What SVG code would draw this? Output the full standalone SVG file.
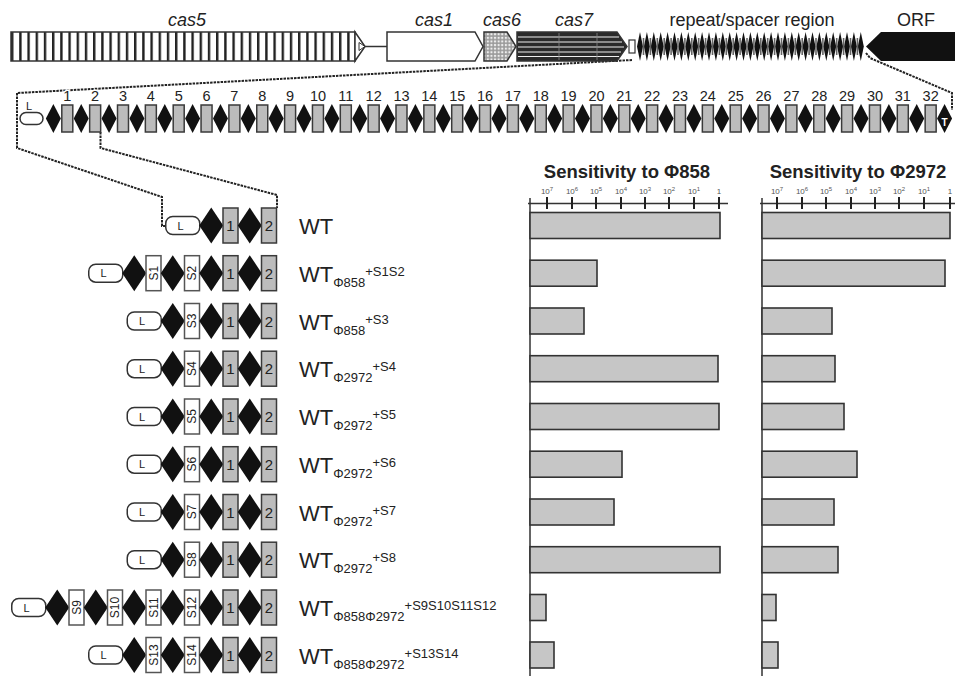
<svg xmlns="http://www.w3.org/2000/svg" xmlns:xlink="http://www.w3.org/1999/xlink" width="955" height="676" viewBox="0 0 955 676">
<style>
.t{font-family:"Liberation Sans",Arial,sans-serif;fill:#222}
.gl{font-size:18px;font-style:italic;text-anchor:middle}
.hl{font-size:18px;text-anchor:middle}
.num{font-size:14.5px;text-anchor:middle;stroke:#fff;stroke-width:3px;paint-order:stroke}
.lead{fill:#fff;stroke:#333;stroke-width:1.5}
.gb{fill:#bcbcbc;stroke:#3a3a3a;stroke-width:1.5}
.wb{fill:#fff;stroke:#555;stroke-width:1.5}
.bar{fill:#c6c6c6;stroke:#333;stroke-width:1.6}
.zl{fill:none;stroke:#222;stroke-width:2;stroke-dasharray:2.5 1}
.ax{stroke:#333;stroke-width:1.5;fill:none}
.tk{stroke:#222;stroke-width:2}
.lt{font-size:11px;text-anchor:middle}
.bn{font-size:15px;text-anchor:middle}
.st{font-size:12px;text-anchor:middle}
.lab{font-size:22px}
.sub{font-size:13px}
.tl{font-size:8px;text-anchor:middle;fill:#555}
.ttl{font-size:18.5px;font-weight:bold;text-anchor:middle}
.gene{stroke:#333;stroke-width:1.5}
</style>
<defs>
<pattern id="stripes" x="11" y="0" width="8.2" height="40" patternUnits="userSpaceOnUse"><rect width="8.2" height="40" fill="#fff"/><rect width="2.4" height="40" fill="#222"/></pattern>
<pattern id="dots" width="3.6" height="3.6" patternUnits="userSpaceOnUse"><rect width="3.6" height="3.6" fill="#999"/><rect x="0.8" y="0.8" width="2.1" height="2.1" fill="#eee"/></pattern>
<path id="d" d="M0,-18 L12,0 L0,18 L-12,0Z" fill="#111"/>
<path id="ds" d="M0,-14.5 L7.5,0 L0,14.5 L-7.5,0Z" fill="#111"/>
<path id="dr" d="M0,-14.5 L3,0 L0,14.5 L-3,0Z" fill="#111"/>
</defs>
<rect width="955" height="676" fill="#fff"/>

<!-- connectors (zoom lines) -->
<g id="connectors">
<polyline class="zl" points="632,60 17,93 17,148 162,197 162,226 165,226"/>
<polyline class="zl" points="100.5,132 100.5,148 277,195 277,208"/>
<polyline class="zl" points="866,53 870,58 952,93 952,110"/>
</g>

<!-- gene locus -->
<g id="cas5">
<text class="t gl" x="187" y="26">cas5</text>
<rect x="11" y="32" width="344" height="29" fill="url(#stripes)" class="gene"/>
<path d="M355,32 L365,46.5 L355,61 Z" fill="#fff" class="gene"/>
<path d="M359,42.5 L365,46.5 L359,50.5 Z" fill="#fff" stroke="#333" stroke-width="1"/>
<line x1="365" y1="46.5" x2="387" y2="46.5" stroke="#333" stroke-width="1.5"/>
</g>
<g id="cas1">
<text class="t gl" x="434" y="26">cas1</text>
<path d="M387,32 H475 L483,46.5 L475,61 H387 Z" fill="#fff" class="gene"/>
</g>
<g id="cas6">
<text class="t gl" x="502" y="26">cas6</text>
<path d="M484,32 H507 L516,46.5 L507,61 H484 Z" fill="url(#dots)" class="gene"/>
</g>
<g id="cas7">
<text class="t gl" x="574" y="26">cas7</text>
<path d="M517,32 H617 L627,46.5 L617,61 H517 Z" fill="#2a2a2a" class="gene"/>
<g stroke="#eee" stroke-width="1">
<line x1="518" y1="37" x2="619" y2="37"/><line x1="518" y1="42" x2="622" y2="42"/><line x1="518" y1="47" x2="624" y2="47"/><line x1="518" y1="52" x2="621" y2="52"/><line x1="518" y1="56.5" x2="619" y2="56.5"/>
</g>
<g stroke="#888" stroke-width="0.8"><line x1="559" y1="33" x2="559" y2="60"/><line x1="597" y1="33" x2="597" y2="60"/></g>
</g>
<g id="repeat-region">
<text class="t hl" x="752" y="26">repeat/spacer region</text>
<rect x="629" y="40" width="6" height="13" fill="#fff" stroke="#333" stroke-width="1.2"/>
<g transform="translate(0,46.5)">
<use xlink:href="#dr" x="640"/><use xlink:href="#dr" x="646.9"/><use xlink:href="#dr" x="653.8"/><use xlink:href="#dr" x="660.7"/><use xlink:href="#dr" x="667.6"/><use xlink:href="#dr" x="674.5"/><use xlink:href="#dr" x="681.4"/><use xlink:href="#dr" x="688.3"/><use xlink:href="#dr" x="695.2"/><use xlink:href="#dr" x="702.1"/><use xlink:href="#dr" x="709"/><use xlink:href="#dr" x="715.9"/><use xlink:href="#dr" x="722.8"/><use xlink:href="#dr" x="729.7"/><use xlink:href="#dr" x="736.6"/><use xlink:href="#dr" x="743.5"/><use xlink:href="#dr" x="750.4"/><use xlink:href="#dr" x="757.3"/><use xlink:href="#dr" x="764.2"/><use xlink:href="#dr" x="771.1"/><use xlink:href="#dr" x="778"/><use xlink:href="#dr" x="784.9"/><use xlink:href="#dr" x="791.8"/><use xlink:href="#dr" x="798.7"/><use xlink:href="#dr" x="805.6"/><use xlink:href="#dr" x="812.5"/><use xlink:href="#dr" x="819.4"/><use xlink:href="#dr" x="826.3"/><use xlink:href="#dr" x="833.2"/><use xlink:href="#dr" x="840.1"/><use xlink:href="#dr" x="847"/><use xlink:href="#dr" x="853.9"/><use xlink:href="#dr" x="860.8"/>
</g>
<g fill="#666">
<rect x="642.7" y="38" width="1.6" height="17"/><rect x="649.6" y="38" width="1.6" height="17"/><rect x="656.5" y="38" width="1.6" height="17"/><rect x="663.4" y="38" width="1.6" height="17"/><rect x="670.3" y="38" width="1.6" height="17"/><rect x="677.2" y="38" width="1.6" height="17"/><rect x="684.1" y="38" width="1.6" height="17"/><rect x="691" y="38" width="1.6" height="17"/><rect x="697.9" y="38" width="1.6" height="17"/><rect x="704.8" y="38" width="1.6" height="17"/><rect x="711.7" y="38" width="1.6" height="17"/><rect x="718.6" y="38" width="1.6" height="17"/><rect x="725.5" y="38" width="1.6" height="17"/><rect x="732.4" y="38" width="1.6" height="17"/><rect x="739.3" y="38" width="1.6" height="17"/><rect x="746.2" y="38" width="1.6" height="17"/><rect x="753.1" y="38" width="1.6" height="17"/><rect x="760" y="38" width="1.6" height="17"/><rect x="766.9" y="38" width="1.6" height="17"/><rect x="773.8" y="38" width="1.6" height="17"/><rect x="780.7" y="38" width="1.6" height="17"/><rect x="787.6" y="38" width="1.6" height="17"/><rect x="794.5" y="38" width="1.6" height="17"/><rect x="801.4" y="38" width="1.6" height="17"/><rect x="808.3" y="38" width="1.6" height="17"/><rect x="815.2" y="38" width="1.6" height="17"/><rect x="822.1" y="38" width="1.6" height="17"/><rect x="829" y="38" width="1.6" height="17"/><rect x="835.9" y="38" width="1.6" height="17"/><rect x="842.8" y="38" width="1.6" height="17"/><rect x="849.7" y="38" width="1.6" height="17"/><rect x="856.6" y="38" width="1.6" height="17"/>
</g>
</g>
<g id="orf">
<text class="t hl" x="916" y="26">ORF</text>
<path d="M955,32 H881 L866,46.5 L881,61 H955 Z" fill="#111"/>
</g>

<!-- expanded repeat/spacer array -->
<g id="array">
<rect class="lead" x="20" y="112.5" width="23" height="12" rx="6"/>
<text class="t lt" x="29" y="110">L</text>
<g transform="translate(0,118.5)">
<use xlink:href="#ds" x="53.37"/><use xlink:href="#ds" x="81.22"/><use xlink:href="#ds" x="109.07"/><use xlink:href="#ds" x="136.92"/><use xlink:href="#ds" x="164.77"/><use xlink:href="#ds" x="192.62"/><use xlink:href="#ds" x="220.47"/><use xlink:href="#ds" x="248.32"/><use xlink:href="#ds" x="276.17"/><use xlink:href="#ds" x="304.02"/><use xlink:href="#ds" x="331.87"/><use xlink:href="#ds" x="359.72"/><use xlink:href="#ds" x="387.57"/><use xlink:href="#ds" x="415.42"/><use xlink:href="#ds" x="443.27"/><use xlink:href="#ds" x="471.12"/><use xlink:href="#ds" x="498.97"/><use xlink:href="#ds" x="526.82"/><use xlink:href="#ds" x="554.67"/><use xlink:href="#ds" x="582.52"/><use xlink:href="#ds" x="610.37"/><use xlink:href="#ds" x="638.22"/><use xlink:href="#ds" x="666.07"/><use xlink:href="#ds" x="693.92"/><use xlink:href="#ds" x="721.77"/><use xlink:href="#ds" x="749.62"/><use xlink:href="#ds" x="777.47"/><use xlink:href="#ds" x="805.32"/><use xlink:href="#ds" x="833.17"/><use xlink:href="#ds" x="861.02"/><use xlink:href="#ds" x="888.87"/><use xlink:href="#ds" x="916.72"/><use xlink:href="#ds" x="944.57"/>
</g>
<g class="gb">
<rect x="61.8" y="105" width="11" height="27"/><rect x="89.65" y="105" width="11" height="27"/><rect x="117.5" y="105" width="11" height="27"/><rect x="145.35" y="105" width="11" height="27"/><rect x="173.2" y="105" width="11" height="27"/><rect x="201.05" y="105" width="11" height="27"/><rect x="228.9" y="105" width="11" height="27"/><rect x="256.75" y="105" width="11" height="27"/><rect x="284.6" y="105" width="11" height="27"/><rect x="312.45" y="105" width="11" height="27"/><rect x="340.3" y="105" width="11" height="27"/><rect x="368.15" y="105" width="11" height="27"/><rect x="396" y="105" width="11" height="27"/><rect x="423.85" y="105" width="11" height="27"/><rect x="451.7" y="105" width="11" height="27"/><rect x="479.55" y="105" width="11" height="27"/><rect x="507.4" y="105" width="11" height="27"/><rect x="535.25" y="105" width="11" height="27"/><rect x="563.1" y="105" width="11" height="27"/><rect x="590.95" y="105" width="11" height="27"/><rect x="618.8" y="105" width="11" height="27"/><rect x="646.65" y="105" width="11" height="27"/><rect x="674.5" y="105" width="11" height="27"/><rect x="702.35" y="105" width="11" height="27"/><rect x="730.2" y="105" width="11" height="27"/><rect x="758.05" y="105" width="11" height="27"/><rect x="785.9" y="105" width="11" height="27"/><rect x="813.75" y="105" width="11" height="27"/><rect x="841.6" y="105" width="11" height="27"/><rect x="869.45" y="105" width="11" height="27"/><rect x="897.3" y="105" width="11" height="27"/><rect x="925.15" y="105" width="11" height="27"/>
</g>
<g class="t num">
<text x="67.3" y="101">1</text><text x="95.15" y="101">2</text><text x="123" y="101">3</text><text x="150.85" y="101">4</text><text x="178.7" y="101">5</text><text x="206.55" y="101">6</text><text x="234.4" y="101">7</text><text x="262.25" y="101">8</text><text x="290.1" y="101">9</text><text x="317.95" y="101">10</text><text x="345.8" y="101">11</text><text x="373.65" y="101">12</text><text x="401.5" y="101">13</text><text x="429.35" y="101">14</text><text x="457.2" y="101">15</text><text x="485.05" y="101">16</text><text x="512.9" y="101">17</text><text x="540.75" y="101">18</text><text x="568.6" y="101">19</text><text x="596.45" y="101">20</text><text x="624.3" y="101">21</text><text x="652.15" y="101">22</text><text x="680" y="101">23</text><text x="707.85" y="101">24</text><text x="735.7" y="101">25</text><text x="763.55" y="101">26</text><text x="791.4" y="101">27</text><text x="819.25" y="101">28</text><text x="847.1" y="101">29</text><text x="874.95" y="101">30</text><text x="902.8" y="101">31</text><text x="930.65" y="101">32</text>
</g>
<text class="t" x="944.6" y="126" font-size="10" font-weight="bold" text-anchor="middle" fill="#fff" style="fill:#fff">T</text>
</g>

<!-- chart axes -->
<g id="chart-858">
<text class="t ttl" x="627" y="178">Sensitivity to Φ858</text>
<g class="t tl">
<text x="547" y="194">10<tspan font-size="6" dy="-3">7</tspan></text>
<text x="572" y="194">10<tspan font-size="6" dy="-3">6</tspan></text>
<text x="596" y="194">10<tspan font-size="6" dy="-3">5</tspan></text>
<text x="621" y="194">10<tspan font-size="6" dy="-3">4</tspan></text>
<text x="645" y="194">10<tspan font-size="6" dy="-3">3</tspan></text>
<text x="669" y="194">10<tspan font-size="6" dy="-3">2</tspan></text>
<text x="694" y="194">10<tspan font-size="6" dy="-3">1</tspan></text>
<text x="719" y="194">1</text>
</g>
<path class="ax" d="M530,198 V676 M528,203.5 H728"/>
<path class="tk" d="M547,197 V209 M572,197 V209 M596,197 V209 M621,197 V209 M645,197 V209 M669,197 V209 M694,197 V209 M719,197 V209"/>
</g>
<g id="chart-2972">
<text class="t ttl" x="858" y="178">Sensitivity to Φ2972</text>
<g class="t tl">
<text x="777" y="194">10<tspan font-size="6" dy="-3">7</tspan></text>
<text x="802" y="194">10<tspan font-size="6" dy="-3">6</tspan></text>
<text x="826" y="194">10<tspan font-size="6" dy="-3">5</tspan></text>
<text x="851" y="194">10<tspan font-size="6" dy="-3">4</tspan></text>
<text x="875" y="194">10<tspan font-size="6" dy="-3">3</tspan></text>
<text x="899" y="194">10<tspan font-size="6" dy="-3">2</tspan></text>
<text x="924" y="194">10<tspan font-size="6" dy="-3">1</tspan></text>
<text x="950" y="194">1</text>
</g>
<path class="ax" d="M762,198 V676 M760,203.5 H955"/>
<path class="tk" d="M777,197 V209 M802,197 V209 M826,197 V209 M851,197 V209 M875,197 V209 M899,197 V209 M924,197 V209 M950,197 V209"/>
</g>

<!-- rows -->
<g id="row-wt" transform="translate(0,225.5)">
<rect class="lead" x="165.75" y="-9" width="34" height="18" rx="7"/><text class="t lt" x="180.5" y="4">L</text>
<use xlink:href="#d" x="211.25"/><rect class="gb" x="223" y="-17.5" width="15" height="35"/><text class="t bn" x="230.5" y="5.5">1</text>
<use xlink:href="#d" x="249.75"/><rect class="gb" x="261.5" y="-17.5" width="15" height="35"/><text class="t bn" x="269" y="5.5">2</text>
<text class="t lab" x="299" y="8.5">WT</text>
<rect class="bar" x="530" y="-13" width="190" height="26"/><rect class="bar" x="762" y="-13" width="188" height="26"/>
</g>

<g id="row-s1s2" transform="translate(0,273.2)">
<rect class="lead" x="88.75" y="-9" width="34" height="18" rx="7"/><text class="t lt" x="103.5" y="4">L</text>
<use xlink:href="#d" x="134.25"/><rect class="wb" x="146" y="-17.5" width="15" height="35"/><text class="t st" transform="translate(153.5 0) rotate(-90)" y="4">S1</text>
<use xlink:href="#d" x="172.75"/><rect class="wb" x="184.5" y="-17.5" width="15" height="35"/><text class="t st" transform="translate(192 0) rotate(-90)" y="4">S2</text>
<use xlink:href="#d" x="211.25"/><rect class="gb" x="223" y="-17.5" width="15" height="35"/><text class="t bn" x="230.5" y="5.5">1</text>
<use xlink:href="#d" x="249.75"/><rect class="gb" x="261.5" y="-17.5" width="15" height="35"/><text class="t bn" x="269" y="5.5">2</text>
<text class="t lab" x="299" y="8.5">WT<tspan class="sub" dy="5">Φ858</tspan><tspan class="sub" dy="-11">+S1S2</tspan></text>
<rect class="bar" x="530" y="-13" width="67" height="26"/><rect class="bar" x="762" y="-13" width="183" height="26"/>
</g>

<g id="row-s3" transform="translate(0,321)">
<rect class="lead" x="127.25" y="-9" width="34" height="18" rx="7"/><text class="t lt" x="142" y="4">L</text>
<use xlink:href="#d" x="172.75"/><rect class="wb" x="184.5" y="-17.5" width="15" height="35"/><text class="t st" transform="translate(192 0) rotate(-90)" y="4">S3</text>
<use xlink:href="#d" x="211.25"/><rect class="gb" x="223" y="-17.5" width="15" height="35"/><text class="t bn" x="230.5" y="5.5">1</text>
<use xlink:href="#d" x="249.75"/><rect class="gb" x="261.5" y="-17.5" width="15" height="35"/><text class="t bn" x="269" y="5.5">2</text>
<text class="t lab" x="299" y="8.5">WT<tspan class="sub" dy="5">Φ858</tspan><tspan class="sub" dy="-11">+S3</tspan></text>
<rect class="bar" x="530" y="-13" width="54" height="26"/><rect class="bar" x="762" y="-13" width="70" height="26"/>
</g>

<g id="row-s4" transform="translate(0,368.7)">
<rect class="lead" x="127.25" y="-9" width="34" height="18" rx="7"/><text class="t lt" x="142" y="4">L</text>
<use xlink:href="#d" x="172.75"/><rect class="wb" x="184.5" y="-17.5" width="15" height="35"/><text class="t st" transform="translate(192 0) rotate(-90)" y="4">S4</text>
<use xlink:href="#d" x="211.25"/><rect class="gb" x="223" y="-17.5" width="15" height="35"/><text class="t bn" x="230.5" y="5.5">1</text>
<use xlink:href="#d" x="249.75"/><rect class="gb" x="261.5" y="-17.5" width="15" height="35"/><text class="t bn" x="269" y="5.5">2</text>
<text class="t lab" x="299" y="8.5">WT<tspan class="sub" dy="5">Φ2972</tspan><tspan class="sub" dy="-11">+S4</tspan></text>
<rect class="bar" x="530" y="-13" width="188" height="26"/><rect class="bar" x="762" y="-13" width="73" height="26"/>
</g>

<g id="row-s5" transform="translate(0,416.5)">
<rect class="lead" x="127.25" y="-9" width="34" height="18" rx="7"/><text class="t lt" x="142" y="4">L</text>
<use xlink:href="#d" x="172.75"/><rect class="wb" x="184.5" y="-17.5" width="15" height="35"/><text class="t st" transform="translate(192 0) rotate(-90)" y="4">S5</text>
<use xlink:href="#d" x="211.25"/><rect class="gb" x="223" y="-17.5" width="15" height="35"/><text class="t bn" x="230.5" y="5.5">1</text>
<use xlink:href="#d" x="249.75"/><rect class="gb" x="261.5" y="-17.5" width="15" height="35"/><text class="t bn" x="269" y="5.5">2</text>
<text class="t lab" x="299" y="8.5">WT<tspan class="sub" dy="5">Φ2972</tspan><tspan class="sub" dy="-11">+S5</tspan></text>
<rect class="bar" x="530" y="-13" width="189" height="26"/><rect class="bar" x="762" y="-13" width="82" height="26"/>
</g>

<g id="row-s6" transform="translate(0,464.2)">
<rect class="lead" x="127.25" y="-9" width="34" height="18" rx="7"/><text class="t lt" x="142" y="4">L</text>
<use xlink:href="#d" x="172.75"/><rect class="wb" x="184.5" y="-17.5" width="15" height="35"/><text class="t st" transform="translate(192 0) rotate(-90)" y="4">S6</text>
<use xlink:href="#d" x="211.25"/><rect class="gb" x="223" y="-17.5" width="15" height="35"/><text class="t bn" x="230.5" y="5.5">1</text>
<use xlink:href="#d" x="249.75"/><rect class="gb" x="261.5" y="-17.5" width="15" height="35"/><text class="t bn" x="269" y="5.5">2</text>
<text class="t lab" x="299" y="8.5">WT<tspan class="sub" dy="5">Φ2972</tspan><tspan class="sub" dy="-11">+S6</tspan></text>
<rect class="bar" x="530" y="-13" width="92" height="26"/><rect class="bar" x="762" y="-13" width="95" height="26"/>
</g>

<g id="row-s7" transform="translate(0,512)">
<rect class="lead" x="127.25" y="-9" width="34" height="18" rx="7"/><text class="t lt" x="142" y="4">L</text>
<use xlink:href="#d" x="172.75"/><rect class="wb" x="184.5" y="-17.5" width="15" height="35"/><text class="t st" transform="translate(192 0) rotate(-90)" y="4">S7</text>
<use xlink:href="#d" x="211.25"/><rect class="gb" x="223" y="-17.5" width="15" height="35"/><text class="t bn" x="230.5" y="5.5">1</text>
<use xlink:href="#d" x="249.75"/><rect class="gb" x="261.5" y="-17.5" width="15" height="35"/><text class="t bn" x="269" y="5.5">2</text>
<text class="t lab" x="299" y="8.5">WT<tspan class="sub" dy="5">Φ2972</tspan><tspan class="sub" dy="-11">+S7</tspan></text>
<rect class="bar" x="530" y="-13" width="84" height="26"/><rect class="bar" x="762" y="-13" width="72" height="26"/>
</g>

<g id="row-s8" transform="translate(0,559.7)">
<rect class="lead" x="127.25" y="-9" width="34" height="18" rx="7"/><text class="t lt" x="142" y="4">L</text>
<use xlink:href="#d" x="172.75"/><rect class="wb" x="184.5" y="-17.5" width="15" height="35"/><text class="t st" transform="translate(192 0) rotate(-90)" y="4">S8</text>
<use xlink:href="#d" x="211.25"/><rect class="gb" x="223" y="-17.5" width="15" height="35"/><text class="t bn" x="230.5" y="5.5">1</text>
<use xlink:href="#d" x="249.75"/><rect class="gb" x="261.5" y="-17.5" width="15" height="35"/><text class="t bn" x="269" y="5.5">2</text>
<text class="t lab" x="299" y="8.5">WT<tspan class="sub" dy="5">Φ2972</tspan><tspan class="sub" dy="-11">+S8</tspan></text>
<rect class="bar" x="530" y="-13" width="190" height="26"/><rect class="bar" x="762" y="-13" width="76" height="26"/>
</g>

<g id="row-s9-s12" transform="translate(0,607.5)">
<rect class="lead" x="11.75" y="-9" width="34" height="18" rx="7"/><text class="t lt" x="26.5" y="4">L</text>
<use xlink:href="#d" x="57.25"/><rect class="wb" x="69" y="-17.5" width="15" height="35"/><text class="t st" transform="translate(76.5 0) rotate(-90)" y="4">S9</text>
<use xlink:href="#d" x="95.75"/><rect class="wb" x="107.5" y="-17.5" width="15" height="35"/><text class="t st" transform="translate(115 0) rotate(-90)" y="4">S10</text>
<use xlink:href="#d" x="134.25"/><rect class="wb" x="146" y="-17.5" width="15" height="35"/><text class="t st" transform="translate(153.5 0) rotate(-90)" y="4">S11</text>
<use xlink:href="#d" x="172.75"/><rect class="wb" x="184.5" y="-17.5" width="15" height="35"/><text class="t st" transform="translate(192 0) rotate(-90)" y="4">S12</text>
<use xlink:href="#d" x="211.25"/><rect class="gb" x="223" y="-17.5" width="15" height="35"/><text class="t bn" x="230.5" y="5.5">1</text>
<use xlink:href="#d" x="249.75"/><rect class="gb" x="261.5" y="-17.5" width="15" height="35"/><text class="t bn" x="269" y="5.5">2</text>
<text class="t lab" x="299" y="8.5">WT<tspan class="sub" dy="5">Φ858Φ2972</tspan><tspan class="sub" dy="-11">+S9S10S11S12</tspan></text>
<rect class="bar" x="530" y="-13" width="16" height="26"/><rect class="bar" x="762" y="-13" width="14" height="26"/>
</g>

<g id="row-s13s14" transform="translate(0,655)">
<rect class="lead" x="88.75" y="-9" width="34" height="18" rx="7"/><text class="t lt" x="103.5" y="4">L</text>
<use xlink:href="#d" x="134.25"/><rect class="wb" x="146" y="-17.5" width="15" height="35"/><text class="t st" transform="translate(153.5 0) rotate(-90)" y="4">S13</text>
<use xlink:href="#d" x="172.75"/><rect class="wb" x="184.5" y="-17.5" width="15" height="35"/><text class="t st" transform="translate(192 0) rotate(-90)" y="4">S14</text>
<use xlink:href="#d" x="211.25"/><rect class="gb" x="223" y="-17.5" width="15" height="35"/><text class="t bn" x="230.5" y="5.5">1</text>
<use xlink:href="#d" x="249.75"/><rect class="gb" x="261.5" y="-17.5" width="15" height="35"/><text class="t bn" x="269" y="5.5">2</text>
<text class="t lab" x="299" y="8.5">WT<tspan class="sub" dy="5">Φ858Φ2972</tspan><tspan class="sub" dy="-11">+S13S14</tspan></text>
<rect class="bar" x="530" y="-13" width="24" height="26"/><rect class="bar" x="762" y="-13" width="16" height="26"/>
</g>
</svg>
